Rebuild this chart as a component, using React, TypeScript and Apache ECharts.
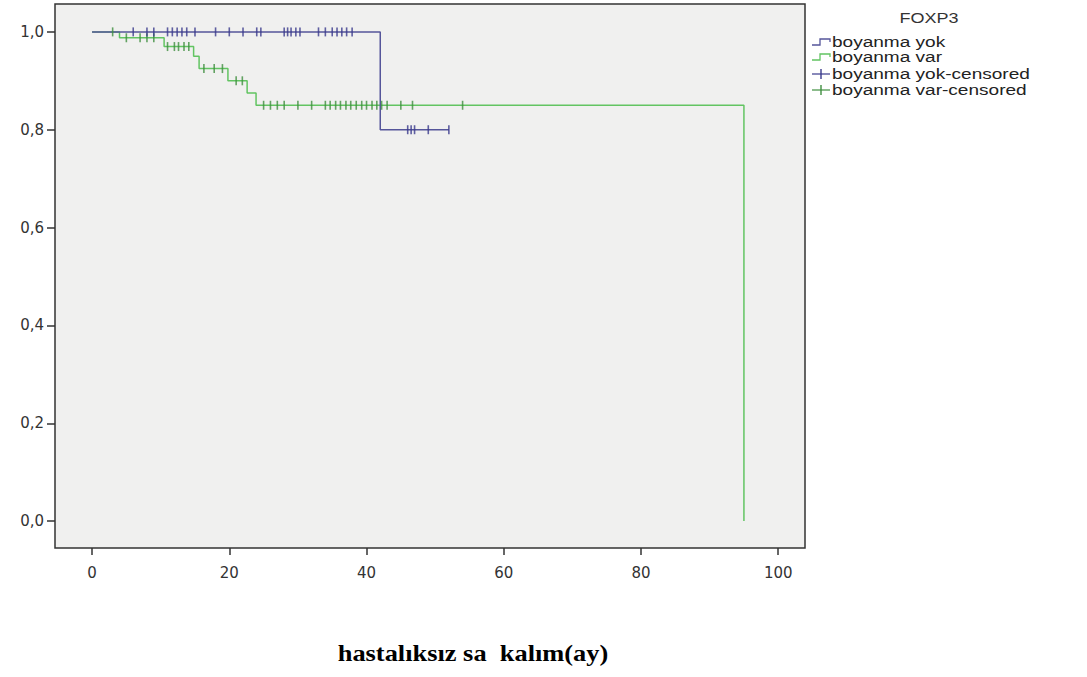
import React, { useEffect, useRef } from "react";
import * as echarts from "echarts";

// Kaplan–Meier steps: [time (months), survival]
const yokSteps: [number, number][] = [
  [0, 1.0],
  [42, 0.8],
  [52, 0.8],
];
const varSteps: [number, number][] = [
  [0, 1.0],
  [4, 0.988],
  [10.5, 0.97],
  [14.8, 0.95],
  [15.6, 0.925],
  [19.8, 0.9],
  [22.6, 0.875],
  [23.9, 0.85],
  [95, 0.0],
];

// censored observations
const yokCensored: [number, number][] = [
  [6, 1], [8, 1], [9, 1], [11, 1], [11.7, 1], [12.4, 1], [13.1, 1], [13.8, 1],
  [15, 1], [18, 1], [20, 1], [22, 1], [24, 1], [24.6, 1], [28, 1], [28.5, 1],
  [29, 1], [29.7, 1], [30.3, 1], [33, 1], [34, 1], [35, 1], [35.7, 1], [36.4, 1],
  [37.1, 1], [37.9, 1],
  [46, 0.8], [46.5, 0.8], [47, 0.8], [49, 0.8], [52, 0.8],
];
const varCensored: [number, number][] = [
  [3, 1],
  [5, 0.988], [7, 0.988], [8, 0.988], [9, 0.988],
  [11, 0.97], [12, 0.97], [12.6, 0.97], [13.4, 0.97], [14.1, 0.97],
  [16.3, 0.925], [17.8, 0.925], [19, 0.925],
  [21, 0.9], [21.9, 0.9],
  [25, 0.85], [26, 0.85], [27, 0.85], [28, 0.85], [30, 0.85], [32, 0.85],
  [34, 0.85], [34.7, 0.85], [35.5, 0.85], [36.2, 0.85], [37, 0.85], [37.7, 0.85],
  [38.5, 0.85], [39.3, 0.85], [40, 0.85], [40.8, 0.85], [41.5, 0.85], [42.2, 0.85],
  [43, 0.85], [45, 0.85], [46.7, 0.85], [54, 0.85],
];

const xTicks = [0, 20, 40, 60, 80, 100];
const yTicks = [0, 0.2, 0.4, 0.6, 0.8, 1.0];

const legendTitle = "FOXP3";
const legendNames = [
  "boyanma yok",
  "boyanma var",
  "boyanma yok-censored",
  "boyanma var-censored",
];
const xTitle = "hastalıksız sa  kalım(ay)";

const BLUE_LINE = "#55559a";
const GREEN_LINE = "#62c462";
const BLUE_MARK = "#3a3a8c";
const GREEN_MARK = "#3f8f3f";

export default function App() {
  const ref = useRef<HTMLDivElement>(null);
  useEffect(() => {
    if (!ref.current) return;
    const chart = echarts.init(ref.current, undefined, { renderer: "svg" });
    const font = "'Liberation Sans', Arial, sans-serif";
    const tickFont = "'DejaVu Sans', sans-serif";

    const lx = 812;
    const ly = [42, 57, 74, 90];
    const legendGraphics: any[] = [
      {
        type: "text",
        x: 929,
        y: 18,
        scaleX: 1.2,
        style: {
          text: legendTitle,
          font: `15px ${font}`,
          fill: "#333",
          align: "center",
          verticalAlign: "middle",
        },
      },
    ];
    const colors = [BLUE_LINE, GREEN_LINE, BLUE_MARK, GREEN_MARK];
    legendNames.forEach((name, i) => {
      const y = ly[i];
      if (i < 2) {
        legendGraphics.push({
          type: "polyline",
          shape: {
            points: [
              [lx, y + 3],
              [lx + 8, y + 3],
              [lx + 8, y - 3],
              [lx + 18, y - 3],
              [lx + 18, y],
            ],
          },
          style: { stroke: colors[i], lineWidth: 1.3, fill: "none" },
        });
      } else {
        legendGraphics.push({
          type: "line",
          shape: { x1: lx, y1: y, x2: lx + 18, y2: y },
          style: { stroke: colors[i], lineWidth: 1.2 },
        });
        legendGraphics.push({
          type: "line",
          shape: { x1: lx + 9, y1: y - 5, x2: lx + 9, y2: y + 5 },
          style: { stroke: colors[i], lineWidth: 1.4 },
        });
      }
      legendGraphics.push({
        type: "text",
        x: lx + 20,
        y,
        scaleX: 1.36,
        style: {
          text: name,
          font: `14px ${font}`,
          fill: "#222",
          align: "left",
          verticalAlign: "middle",
        },
      });
    });

    chart.setOption({
      animation: false,
      backgroundColor: "#ffffff",
      grid: {
        left: 55,
        top: 4,
        right: 1087 - 805,
        bottom: 677 - 548,
        show: true,
        backgroundColor: "#f0f0ef",
        borderColor: "#333",
        borderWidth: 1.5,
      },
      xAxis: {
        type: "value",
        position: "bottom",
        min: -5.4,
        max: 103.9,
        axisLine: { show: false, onZero: false },
        splitLine: { show: false },
        axisTick: {
          show: true,
          customValues: xTicks,
          length: 7,
          lineStyle: { color: "#333", width: 1.5 },
        },
        axisLabel: {
          customValues: xTicks,
          formatter: (v: number) => String(v),
          color: "#333",
          fontSize: 15,
          fontFamily: tickFont,
          margin: 17,
        },
      },
      yAxis: {
        type: "value",
        position: "left",
        min: -0.055,
        max: 1.057,
        axisLine: { show: false, onZero: false },
        splitLine: { show: false },
        axisTick: {
          show: true,
          customValues: yTicks,
          length: 8,
          lineStyle: { color: "#333", width: 1.5 },
        },
        axisLabel: {
          customValues: yTicks,
          formatter: (v: number) => v.toFixed(1).replace(".", ","),
          color: "#333",
          fontSize: 15,
          fontFamily: tickFont,
          margin: 11,
        },
      },
      graphic: [
        ...legendGraphics,
        {
          type: "text",
          x: 473,
          y: 653,
          scaleX: 1.1,
          style: {
            text: xTitle,
            font: `bold 24px 'Liberation Serif', 'Times New Roman', serif`,
            fill: "#000",
            align: "center",
            verticalAlign: "middle",
          },
        },
      ],
      series: [
        {
          name: "boyanma var",
          type: "line",
          step: "end",
          data: varSteps,
          showSymbol: false,
          symbol: "none",
          lineStyle: { color: GREEN_LINE, width: 1.5 },
          z: 2,
        },
        {
          name: "boyanma yok",
          type: "line",
          step: "end",
          data: yokSteps,
          showSymbol: false,
          symbol: "none",
          lineStyle: { color: BLUE_LINE, width: 1.5 },
          z: 3,
        },
        {
          name: "boyanma var-censored",
          type: "scatter",
          data: varCensored,
          symbol: "rect",
          symbolSize: [1.6, 9],
          itemStyle: { color: GREEN_MARK },
          z: 4,
        },
        {
          name: "boyanma yok-censored",
          type: "scatter",
          data: yokCensored,
          symbol: "rect",
          symbolSize: [1.6, 9],
          itemStyle: { color: BLUE_MARK },
          z: 5,
        },
      ],
    });
    return () => chart.dispose();
  }, []);

  return (
    <div
      ref={ref}
      style={{ position: "fixed", left: 0, top: 0, width: 1087, height: 677 }}
    />
  );
}
